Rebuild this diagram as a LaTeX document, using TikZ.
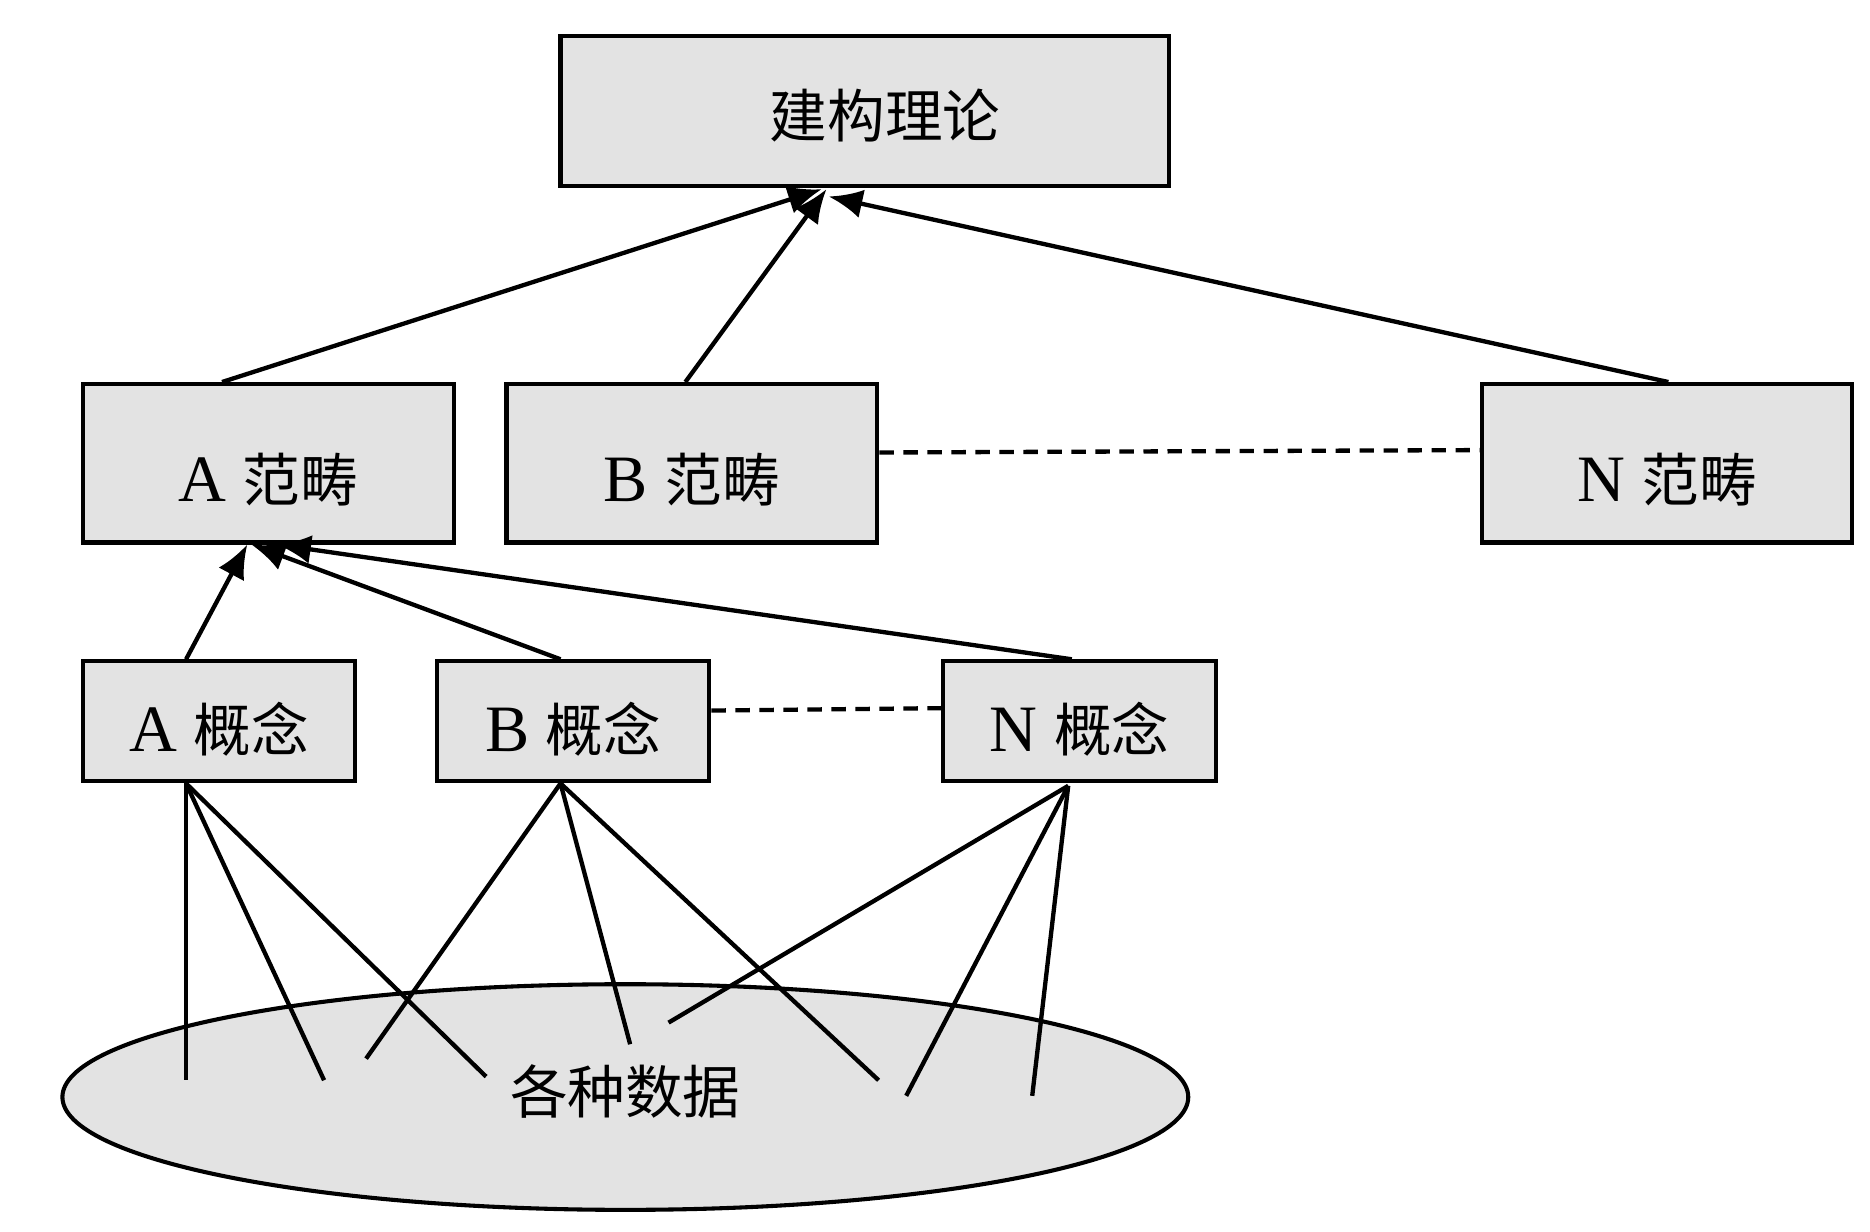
\documentclass[tikz,border=0pt]{standalone}
\usepackage{fontspec}
\setmainfont{Liberation Serif}[Scale=1.15]
\newfontfamily\cjk{Noto Sans CJK SC}
\usetikzlibrary{arrows.meta,calc,shapes.geometric}
\newcommand{\boxtext}[2]{\raisebox{#1}[0pt][0pt]{#2}}

\begin{document}
\begin{tikzpicture}[x=0.5pt,y=0.5pt,yscale=-1,xscale=1,
  box/.style={draw,line width=1.7pt,fill={rgb,255:red,227;green,227;blue,227},inner sep=0pt,font=\fontsize{24}{28}\selectfont},
  link/.style={line width=1.8pt},
  arr/.style={line width=1.8pt,-{Latex[length=14pt,width=12pt]}},
  dash line/.style={line width=1.8pt,dash pattern=on 6pt off 4pt}]
%set diagram left start at 0, and has height of 1026
\useasboundingbox (0,0) rectangle (1558,1026);

%Shape: Rectangle
\draw (720.5,92.5) node [box,minimum width=253.5pt,minimum height=62.5pt] (theory) {\boxtext{-11pt}{\hspace{17pt}\cjk 建构理论}};

%Shape: Rectangle
\draw (223.5,386) node [box,minimum width=154.5pt,minimum height=66pt] (catA) {\boxtext{-16pt}{A {\cjk 范畴}}};
%Shape: Rectangle
\draw (576.5,386) node [box,minimum width=154.5pt,minimum height=66pt] (catB) {\boxtext{-16pt}{B {\cjk 范畴}}};
%Shape: Rectangle
\draw (1389,386) node [box,minimum width=154pt,minimum height=66pt] (catN) {\boxtext{-16pt}{N {\cjk 范畴}}};

%Shape: Rectangle
\draw (182.5,601) node [box,minimum width=113.5pt,minimum height=50pt] (conA) {\boxtext{-12.5pt}{A {\cjk 概念}}};
%Shape: Rectangle
\draw (477.5,601) node [box,minimum width=113.5pt,minimum height=50pt] (conB) {\boxtext{-12.5pt}{B {\cjk 概念}}};
%Shape: Rectangle
\draw (899.5,601) node [box,minimum width=113.5pt,minimum height=50pt] (conN) {\boxtext{-12.5pt}{N {\cjk 概念}}};

%Shape: Ellipse
\draw (521,914) node [box,ellipse,minimum width=469pt,minimum height=94pt] (data) {\boxtext{-7pt}{\cjk 各种数据}};

%Straight Lines
\draw [arr] ($(catA.north)+(-38.5,0)$) -- ($(theory.south)+(-36,1)$);
\draw [arr] ($(catB.north)+(-5.5,0)$) -- ($(theory.south)+(-32,1)$);
\draw [arr] ($(catN.north)+(1,0)$) -- ($(theory.south)+(-30,7)$);

%Straight Lines
\draw [arr] ($(conA.north)+(-27.5,0)$) -- ($(catA.south)+(-17.5,0)$);
\draw [arr] ($(conB.north)+(-10.5,0)$) -- ($(catA.south)+(-14,0)$);
\draw [arr] ($(conN.north)+(-6.5,0)$) -- ($(catA.south)+(7.5,0)$);

%Straight Lines
\draw [dash line] ($(catB.east)+(0,-9)$) -- ($(catN.west)+(0,-11)$);
\draw [dash line] ($(conB.east)+(0,-9)$) -- ($(conN.west)+(0,-11)$);

%free ends inside the data
\coordinate (d1) at (155,900);
\coordinate (d2) at (270,900);
\coordinate (d3) at (405,897);
\coordinate (d4) at (305,882);
\coordinate (d5) at (525,870);
\coordinate (d6) at (732,900);
\coordinate (d7) at (557,852);
\coordinate (d8) at (755,913);
\coordinate (d9) at (860,913);

%Straight Lines
\draw [link] ($(conA.south)+(-27.5,0)$) -- (d1);
\draw [link] ($(conA.south)+(-27.5,0)$) -- (d2);
\draw [link] ($(conA.south)+(-27.5,0)$) -- (d3);
%Straight Lines
\draw [link] ($(conB.south)+(-10.5,0)$) -- (d4);
\draw [link] ($(conB.south)+(-10.5,0)$) -- (d5);
\draw [link] ($(conB.south)+(-10.5,0)$) -- (d6);
%Straight Lines
\draw [link] ($(conN.south)+(-9.5,2)$) -- (d7);
\draw [link] ($(conN.south)+(-9.5,2)$) -- (d8);
\draw [link] ($(conN.south)+(-9.5,2)$) -- (d9);

\end{tikzpicture}
\end{document}
